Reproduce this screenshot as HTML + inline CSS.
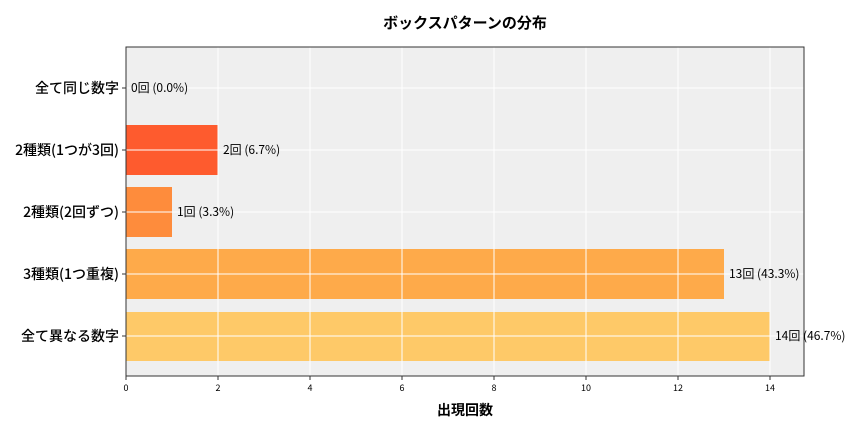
<!DOCTYPE html>
<html><head><meta charset="utf-8"><style>
body{margin:0;background:#fff}
text{font-family:"Noto Sans CJK JP","Liberation Sans",sans-serif;fill:#000}
</style></head><body>
<svg width="864" height="432" viewBox="0 0 864 432" xmlns="http://www.w3.org/2000/svg">
<rect x="126" y="47" width="678" height="329" fill="#efefef"/>
<rect x="126" y="125" width="92" height="50" fill="#fe5b2e"/>
<rect x="126" y="187" width="46" height="50" fill="#fe8c3c"/>
<rect x="126" y="249" width="598" height="50" fill="#feaa4a"/>
<rect x="126" y="312" width="644" height="49" fill="#fec968"/>
<g stroke="#fff" stroke-width="1">
<line x1="218" y1="47" x2="218" y2="376"/><line x1="310" y1="47" x2="310" y2="376"/>
<line x1="402" y1="47" x2="402" y2="376"/><line x1="494" y1="47" x2="494" y2="376"/>
<line x1="586" y1="47" x2="586" y2="376"/><line x1="678" y1="47" x2="678" y2="376"/>
<line x1="770" y1="47" x2="770" y2="376"/>
<line x1="126" y1="88" x2="804" y2="88"/><line x1="126" y1="150" x2="804" y2="150"/>
<line x1="126" y1="212" x2="804" y2="212"/><line x1="126" y1="274" x2="804" y2="274"/>
<line x1="126" y1="336" x2="804" y2="336"/>
</g>
<rect x="126" y="47" width="678" height="329" fill="none" stroke="#333" stroke-width="1"/>
<g stroke="#333"><line x1="122" y1="88" x2="126" y2="88"/><line x1="122" y1="150" x2="126" y2="150"/><line x1="122" y1="212" x2="126" y2="212"/><line x1="122" y1="274" x2="126" y2="274"/><line x1="122" y1="336" x2="126" y2="336"/>
<line x1="126" y1="376" x2="126" y2="380"/><line x1="218" y1="376" x2="218" y2="380"/><line x1="310" y1="376" x2="310" y2="380"/><line x1="402" y1="376" x2="402" y2="380"/><line x1="494" y1="376" x2="494" y2="380"/><line x1="586" y1="376" x2="586" y2="380"/><line x1="678" y1="376" x2="678" y2="380"/><line x1="770" y1="376" x2="770" y2="380"/></g>
<text x="465" y="28" font-size="15" text-anchor="middle" font-weight="bold">ボックスパターンの分布</text>
<g font-size="14" text-anchor="end" font-weight="500">
<text x="119" y="93">全て同じ数字</text><text x="119" y="155">2種類(1つが3回)</text>
<text x="119" y="217">2種類(2回ずつ)</text><text x="119" y="279">3種類(1つ重複)</text>
<text x="119" y="341">全て異なる数字</text></g>
<g font-size="12">
<text x="131" y="92">0回 (0.0%)</text><text x="223" y="154">2回 (6.7%)</text>
<text x="177" y="216">1回 (3.3%)</text><text x="729" y="278">13回 (43.3%)</text>
<text x="775" y="340">14回 (46.7%)</text></g>
<g font-size="9" text-anchor="middle">
<text x="126" y="391">0</text><text x="218" y="391">2</text><text x="310" y="391">4</text><text x="402" y="391">6</text><text x="494" y="391">8</text><text x="586" y="391">10</text><text x="678" y="391">12</text><text x="770" y="391">14</text></g>
<text x="465" y="415" font-size="14" text-anchor="middle" font-weight="bold">出現回数</text>
</svg>
</body></html>
